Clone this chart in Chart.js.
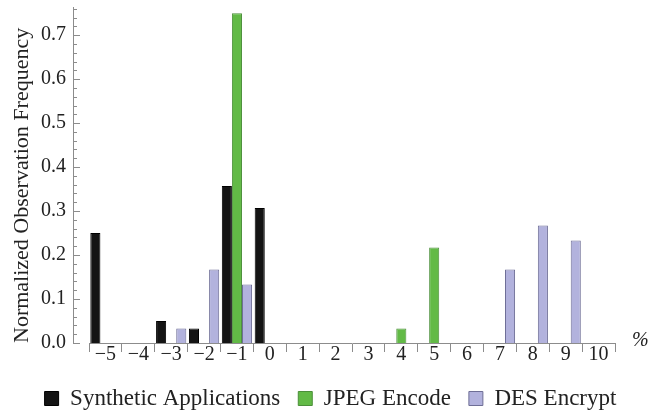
<!DOCTYPE html>
<html>
<head>
<meta charset="utf-8">
<script src="https://cdn.jsdelivr.net/npm/chart.js@4"></script>
<style>
  html, body { margin: 0; padding: 0; background: #fff; }
  #wrap { width: 649px; height: 414px; }
</style>
</head>
<body>
<div id="wrap"><canvas id="freq"></canvas></div>
<script>
// error bins in %, one category per bin
const bins = ['\u22125', '\u22124', '\u22123', '\u22122', '\u22121', '0', '1', '2', '3', '4', '5', '6', '7', '8', '9', '10'];
const synthetic = [0.25, null, 0.05, 0.033, 0.357, 0.307, null, null, null, null, null, null, null, null, null, null];
const jpeg = [null, null, null, null, 0.75, null, null, null, null, 0.033, 0.217, null, null, null, null, null];
const des = [null, null, 0.033, 0.167, 0.133, null, null, null, null, null, null, null, 0.167, 0.267, 0.233, null];
const yTicks = [0, 0.1, 0.2, 0.3, 0.4, 0.5, 0.6, 0.7];

const serif = '"Liberation Serif", "Times New Roman", "DejaVu Serif", serif';
const axisGrey = '#8c8c8c';

// y axis sits a bit left of where the x axis starts, ticks point inwards
const sideAxis = {
  id: 'sideAxis',
  afterDraw(chart) {
    const { ctx, chartArea } = chart;
    const y = chart.scales.y;
    const ax = chartArea.left - 16;
    ctx.save();
    ctx.strokeStyle = axisGrey;
    ctx.lineWidth = 1;
    ctx.beginPath();
    ctx.moveTo(ax + 0.5, y.top);
    ctx.lineTo(ax + 0.5, y.bottom);
    for (let i = 0; i <= 38; i++) {
      const v = i * 0.02;
      const py = Math.round(y.getPixelForValue(v)) + 0.5;
      const len = i % 5 === 0 ? 7 : 4;
      ctx.moveTo(ax, py);
      ctx.lineTo(ax + len, py);
    }
    ctx.stroke();
    ctx.fillStyle = '#222';
    ctx.font = 'italic 20px ' + serif;
    ctx.textBaseline = 'middle';
    ctx.fillText('%', chartArea.right + 17, y.bottom - 2);
    ctx.restore();
  }
};

new Chart(document.getElementById('freq'), {
  type: 'bar',
  data: {
    labels: bins,
    datasets: [
      {
        label: 'Synthetic Applications',
        data: synthetic,
        backgroundColor: '#141414',
        borderColor: '#000',
        borderWidth: 1,
      },
      {
        label: 'JPEG Encode',
        data: jpeg,
        backgroundColor: '#62ba46',
        borderColor: '#4b8f3a',
        borderWidth: 1,
      },
      {
        label: 'DES Encrypt',
        data: des,
        backgroundColor: '#b2b2dd',
        borderColor: '#6e6e96',
        borderWidth: 1,
      },
    ],
  },
  options: {
    responsive: true,
    maintainAspectRatio: false,
    animation: false,
    categoryPercentage: 0.92,
    barPercentage: 1,
    layout: { padding: { left: 12, right: 0, top: 7, bottom: -6 } },
    plugins: {
      tooltip: { enabled: false },
      legend: {
        position: 'bottom',
        labels: {
          boxWidth: 14,
          boxHeight: 14,
          padding: 18,
          color: '#222',
          font: { family: serif, size: 23 },
        },
      },
    },
    scales: {
      x: {
        grid: {
          display: true,
          drawOnChartArea: false,
          drawTicks: true,
          tickLength: 9,
          color: axisGrey,
        },
        border: { display: true, color: axisGrey },
        ticks: {
          padding: -9,
          color: '#222',
          font: { family: serif, size: 20 },
          maxRotation: 0,
          autoSkip: false,
        },
        afterFit: (s) => {
          s.height = 26;
          s.paddingLeft = 0;
          s.paddingRight = 34;
        },
      },
      y: {
        min: 0,
        max: 0.764,
        grid: { display: false, drawTicks: false },
        border: { display: false },
        afterBuildTicks: (s) => {
          s.ticks = yTicks.map((v) => ({ value: v }));
        },
        ticks: {
          padding: 23,
          color: '#222',
          font: { family: serif, size: 20 },
          callback: (v) => Number(v).toFixed(1),
        },
        title: {
          display: true,
          text: 'Normalized Observation Frequency',
          align: 'start',
          color: '#222',
          padding: { top: 0, bottom: 0 },
          font: { family: serif, size: 22, lineHeight: 0.9 },
        },
        afterFit: (s) => {
          s.width = 77;
          s.paddingTop = 0;
          s.paddingBottom = 0;
        },
      },
    },
  },
  plugins: [sideAxis],
});
</script>
</body>
</html>
